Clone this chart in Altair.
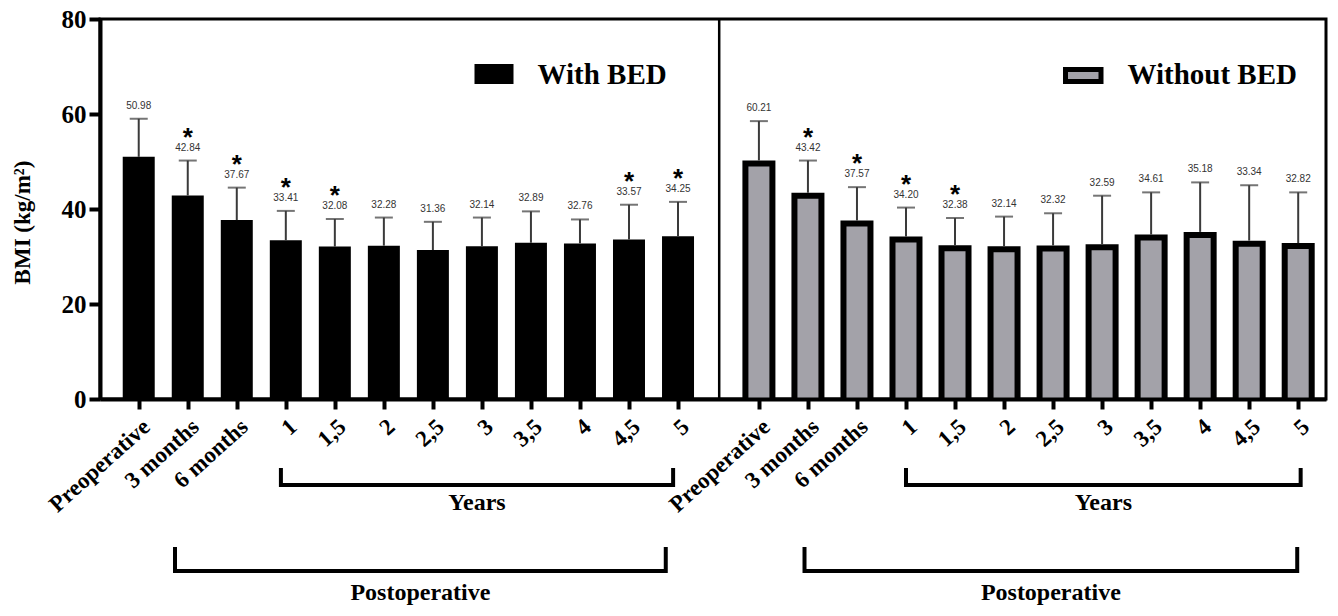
import json
import altair as alt
import pandas as pd

# ---------------- data ----------------
categories = ["Preoperative", "3 months", "6 months", "1", "1,5", "2", "2,5",
              "3", "3,5", "4", "4,5", "5"]

with_bed_mean = [50.98, 42.84, 37.67, 33.41, 32.08, 32.28, 31.36, 32.14, 32.89, 32.76, 33.57, 34.25]
with_bed_upper = [59.0, 50.2, 44.5, 39.6, 37.9, 38.2, 37.3, 38.2, 39.5, 37.8, 40.9, 41.5]
with_bed_labels = ["50.98", "42.84", "37.67", "33.41", "32.08", "32.28", "31.36",
                   "32.14", "32.89", "32.76", "33.57", "34.25"]
with_bed_star = [False, True, True, True, True, False, False, False, False, False, True, True]

without_bed_mean = [50.21, 43.42, 37.57, 34.20, 32.38, 32.14, 32.32, 32.59, 34.61, 35.18, 33.34, 32.82]
without_bed_upper = [58.5, 50.2, 44.6, 40.3, 38.1, 38.4, 39.1, 42.8, 43.5, 45.6, 45.0, 43.5]
without_bed_labels = ["60.21", "43.42", "37.57", "34.20", "32.38", "32.14", "32.32",
                      "32.59", "34.61", "35.18", "33.34", "32.82"]
without_bed_star = [False, True, True, True, True, False, False, False, False, False, False, False]

groups = ["With BED", "Without BED"]
panel_offset = [0.0, 12.65]        # category-unit offset of each panel
divider_pos = 11.84
x_domain = [-0.688, 24.115]

# bracket spans in category units (relative to panel)
years_start = [2.9, 3.0]
years_end = [10.9, 11.05]
postop_start = [0.74, 0.93]
postop_end = [10.75, 10.98]

# ---------------- tables ----------------
rows = []
series = [
    (with_bed_mean, with_bed_upper, with_bed_labels, with_bed_star),
    (without_bed_mean, without_bed_upper, without_bed_labels, without_bed_star),
]
for g, off, (m, u, lab, st) in zip(groups, panel_offset, series):
    for i, c in enumerate(categories):
        rows.append({"group": g, "cat": c, "pos": off + i, "mean": m[i], "upper": u[i],
                     "label": lab[i], "star": "*" if st[i] else ""})
df = pd.DataFrame(rows)

positions = [off + i for off in panel_offset for i in range(len(categories))]

brackets = pd.DataFrame({
    "ys": [o + s for o, s in zip(panel_offset, years_start)],
    "ye": [o + e for o, e in zip(panel_offset, years_end)],
    "ps": [o + s for o, s in zip(panel_offset, postop_start)],
    "pe": [o + e for o, e in zip(panel_offset, postop_end)],
})
years_ends = pd.DataFrame({"x": list(brackets["ys"]) + list(brackets["ye"])})
postop_ends = pd.DataFrame({"x": list(brackets["ps"]) + list(brackets["pe"])})

SERIF = "Liberation Serif"
SANS = "Liberation Sans"
GRAY = "#a3a2a9"
ERR = "#3a3a3a"

xscale = alt.Scale(domain=x_domain, nice=False, zero=False)
yscale = alt.Scale(domain=[0, 80], nice=False)

label_arr = json.dumps(categories)
label_expr = (f"datum.value < {divider_pos} ? {label_arr}[round(datum.value)] : "
              f"{label_arr}[round(datum.value - {panel_offset[1]})]")

x_axis = alt.Axis(values=positions, labelExpr=label_expr, labelAngle=-42,
                  labelFont=SERIF, labelFontWeight="bold", labelFontSize=23,
                  labelColor="black", labelOverlap=False, labelFlush=False,
                  labelPadding=6, tickSize=10, tickWidth=4, tickColor="black",
                  domainWidth=4, domainColor="black", grid=False, title=None,
                  zindex=1)
y_axis = alt.Axis(values=[0, 20, 40, 60, 80], labelFont=SERIF, labelFontWeight="bold",
                  labelFontSize=25, labelColor="black", labelPadding=3,
                  tickSize=11, tickWidth=4, tickColor="black",
                  domainWidth=4, domainColor="black", grid=False,
                  title="BMI (kg/m²)", titleFont=SERIF, titleFontWeight="bold",
                  titleFontSize=23, titleColor="black", titleX=-78, titleY=203,
                  titleBaseline="middle", titleAngle=270, zindex=1)

base = alt.Chart(df)
XQ = alt.X("pos:Q", scale=xscale)

err = base.mark_rule(color=ERR, strokeWidth=2).encode(
    x=XQ, y=alt.Y("mean:Q", scale=yscale), y2="upper:Q")
cap = base.mark_tick(orient="horizontal", size=18, thickness=2, color=ERR).encode(
    x=XQ, y=alt.Y("upper:Q", scale=yscale))

bars_with = base.transform_filter(alt.datum.group == "With BED").mark_bar(
    size=32, color="black").encode(
    x=alt.X("pos:Q", scale=xscale, axis=x_axis),
    y=alt.Y("mean:Q", scale=yscale, axis=y_axis))
bars_without_outer = base.transform_filter(alt.datum.group == "Without BED").mark_bar(
    size=33, color="black").encode(x=XQ, y=alt.Y("mean:Q", scale=yscale))
bars_without_inner = base.transform_filter(alt.datum.group == "Without BED").mark_bar(
    size=21, color=GRAY, yOffset=6, clip=True).encode(x=XQ, y=alt.Y("mean:Q", scale=yscale))

vals = base.mark_text(font=SANS, fontSize=10, color="#333333", baseline="alphabetic",
                      dy=-10).encode(
    x=XQ, y=alt.Y("upper:Q", scale=yscale), text="label:N")
stars = base.transform_filter(alt.datum.star != "").mark_text(
    font=SANS, fontSize=26, fontWeight="bold", color="black", baseline="alphabetic",
    dy=-15).encode(
    x=XQ, y=alt.Y("upper:Q", scale=yscale), text="star:N")

divider = alt.Chart(pd.DataFrame({"x": [divider_pos], "y0": [0], "y1": [80]})).mark_rule(
    color="black", strokeWidth=2.5).encode(
    x=alt.X("x:Q", scale=xscale), y=alt.Y("y0:Q", scale=yscale), y2="y1:Q")

# brackets
bk = alt.Chart(brackets)
years_h = bk.mark_rule(color="black", strokeWidth=4).encode(
    x=alt.X("ys:Q", scale=xscale), x2="ye:Q", y=alt.value(466))
postop_h = bk.mark_rule(color="black", strokeWidth=4).encode(
    x=alt.X("ps:Q", scale=xscale), x2="pe:Q", y=alt.value(552))
years_v = alt.Chart(years_ends).mark_rule(color="black", strokeWidth=4).encode(
    x=alt.X("x:Q", scale=xscale), y=alt.value(449), y2=alt.value(468))
postop_v = alt.Chart(postop_ends).mark_rule(color="black", strokeWidth=4).encode(
    x=alt.X("x:Q", scale=xscale), y=alt.value(528), y2=alt.value(554))
years_t = bk.transform_calculate(mid="(datum.ys + datum.ye) / 2").mark_text(
    font=SERIF, fontWeight="bold", fontSize=24, color="black", baseline="middle").encode(
    x=alt.X("mid:Q", scale=xscale), y=alt.value(484), text=alt.value("Years"))
postop_t = bk.transform_calculate(mid="(datum.ps + datum.pe) / 2").mark_text(
    font=SERIF, fontWeight="bold", fontSize=24, color="black", baseline="middle").encode(
    x=alt.X("mid:Q", scale=xscale), y=alt.value(574), text=alt.value("Postoperative"))

# legend
one = alt.Chart(pd.DataFrame({"k": [0]}))
leg1_box = one.mark_rect(color="black").encode(
    x=alt.value(374.5), x2=alt.value(413.5), y=alt.value(45), y2=alt.value(65))
leg1_txt = one.mark_text(font=SERIF, fontWeight="bold", fontSize=29, color="black",
                         align="left", baseline="middle").encode(
    x=alt.value(437.5), y=alt.value(56), text=alt.value(groups[0]))
leg2_box = one.mark_rect(fill=GRAY, stroke="black", strokeWidth=5).encode(
    x=alt.value(965.5), x2=alt.value(1001), y=alt.value(50.5), y2=alt.value(62.5))
leg2_txt = one.mark_text(font=SERIF, fontWeight="bold", fontSize=29, color="black",
                         align="left", baseline="middle").encode(
    x=alt.value(1027.5), y=alt.value(56), text=alt.value(groups[1]))

chart = alt.layer(
    bars_with, bars_without_outer, bars_without_inner, err, cap, vals, stars, divider,
    years_h, years_v, years_t, postop_h, postop_v, postop_t,
    leg1_box, leg1_txt, leg2_box, leg2_txt,
).properties(
    width=1226, height=380,
    autosize=alt.AutoSizeParams(type="none"),
    padding={"left": 92, "top": 11, "right": 2, "bottom": 209},
).configure_view(stroke="black", strokeWidth=3)

chart.save("out.html", embed_options={"renderer": "svg", "actions": False})
